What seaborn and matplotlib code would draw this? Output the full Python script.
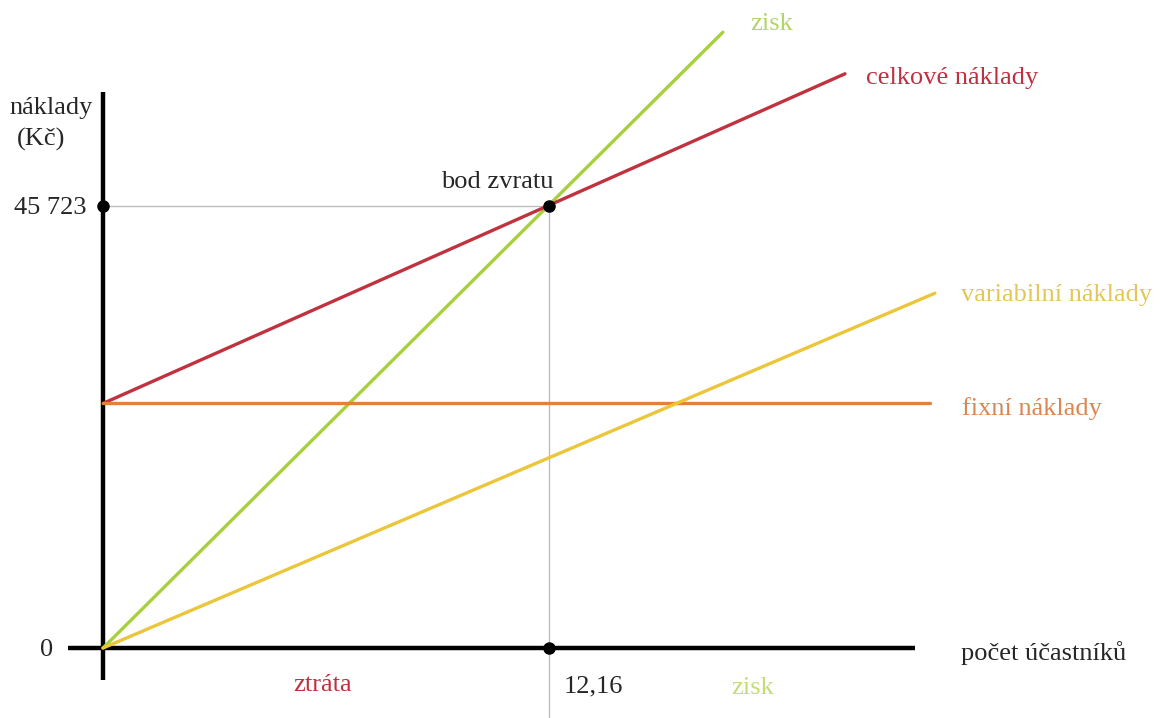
import matplotlib
matplotlib.use("Agg")
import matplotlib.pyplot as plt
import seaborn as sns
import pandas as pd

# hodnoty
bod_x = 12.16
bod_y = 45723
fixni = 25300

zisk_x = [0, 16.90]
zisk_y = [0, 63700]
celkove_x = [0, 20.23]
celkove_y = [fixni, 59400]
fixni_x = [0, 22.55]
fixni_y = [fixni, fixni]
var_x = [0, 22.68]
var_y = [0, 36700]

nazvy = ["zisk", "celkové náklady", "fixní náklady", "variabilní náklady"]
barvy = ["#a6d13c", "#c1323f", "#e5803c", "#ecc63a"]

df = pd.concat([
    pd.DataFrame({"x": zisk_x, "y": zisk_y, "rada": "zisk"}),
    pd.DataFrame({"x": celkove_x, "y": celkove_y, "rada": "celkové náklady"}),
    pd.DataFrame({"x": fixni_x, "y": fixni_y, "rada": "fixní náklady"}),
    pd.DataFrame({"x": var_x, "y": var_y, "rada": "variabilní náklady"}),
])

sns.set_style("white")
plt.rcParams["font.family"] = ["Liberation Serif", "DejaVu Serif"]

fig = plt.figure(figsize=(11.65, 7.18), dpi=100)
ax = fig.add_axes([0, 0, 1, 1])
ax.set_xlim(-103 / 36.678, (1165 - 103) / 36.678)
ax.set_ylim(-70 / 0.0096669, (718 - 70) / 0.0096669)
ax.axis("off")

# pomocne sede cary k bodu zvratu
ax.plot([0, bod_x], [bod_y, bod_y], color="#bdbdbd", lw=1, zorder=1)
ax.plot([bod_x, bod_x], [bod_y, ax.get_ylim()[0]], color="#bdbdbd", lw=1, zorder=1)

sns.lineplot(data=df, x="x", y="y", hue="rada", hue_order=nazvy,
             palette=barvy, lw=2.4, legend=False, ax=ax, zorder=3,
             estimator=None, sort=False)

# osy
ax.plot([0, 0], [-3310, 57500], color="black", lw=3.2, zorder=2, solid_capstyle="butt")
ax.plot([-0.95, 22.14], [0, 0], color="black", lw=3.2, zorder=2, solid_capstyle="butt")

ax.plot([0, bod_x, bod_x], [bod_y, bod_y, 0], "o", color="black", ms=8, zorder=5)


def px(x, y):
    return (x / 1165, 1 - y / 718)


fs = 19
t = ax.transAxes
ax.text(*px(9, 108), "náklady", fontsize=fs, va="center", transform=t)
ax.text(*px(17, 139), "(Kč)", fontsize=fs, va="center", transform=t)
ax.text(*px(14, 208), "45 723", fontsize=fs, va="center", transform=t)
ax.text(*px(40, 650), "0", fontsize=fs, va="center", transform=t)
ax.text(*px(441, 182), "bod zvratu", fontsize=fs, va="center", transform=t)
ax.text(*px(564, 686), "12,16", fontsize=fs, va="center", transform=t)
ax.text(*px(293, 685), "ztráta", fontsize=fs, va="center", color="#c23040", transform=t)
ax.text(*px(731, 688), "zisk", fontsize=fs, va="center", color="#c2dc7a", transform=t)
ax.text(*px(961, 653), "počet účastníků", fontsize=fs, va="center", transform=t)
ax.text(*px(750, 24), "zisk", fontsize=fs, va="center", color="#b3d46a", transform=t)
ax.text(*px(866, 78), "celkové náklady", fontsize=fs, va="center", color="#c03040", transform=t)
ax.text(*px(961, 295), "variabilní náklady", fontsize=fs, va="center", color="#e3c65a", transform=t)
ax.text(*px(962, 409), "fixní náklady", fontsize=fs, va="center", color="#dd8550", transform=t)

fig.savefig("out.png", dpi=100)
